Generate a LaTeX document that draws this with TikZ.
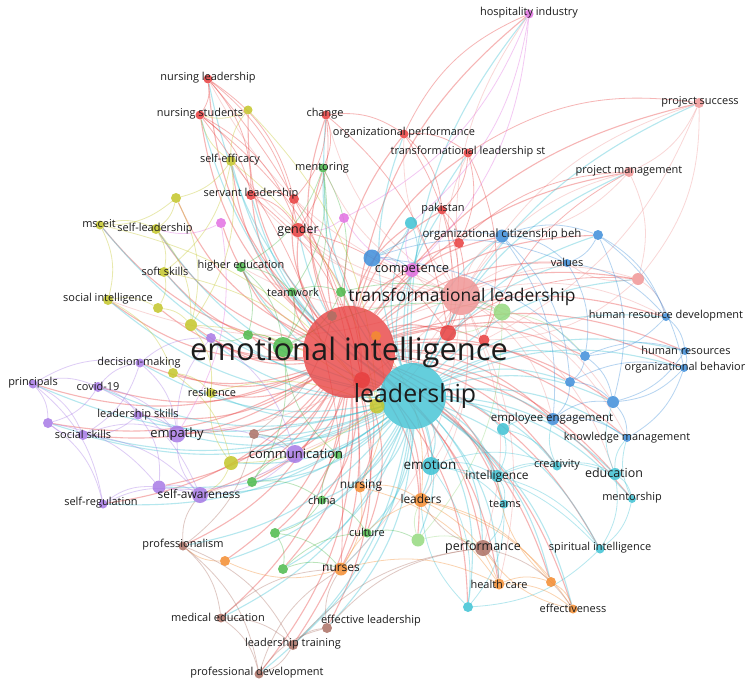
\documentclass[tikz,border=0pt]{standalone}
\usepackage{fontspec}
\setmainfont{Open Sans}
\usetikzlibrary{backgrounds}

% cluster colours
\definecolor{vred}{RGB}{232,62,62}
\definecolor{vsalmon}{RGB}{240,150,150}
\definecolor{vpink}{RGB}{226,112,226}
\definecolor{vyellow}{RGB}{196,198,42}
\definecolor{vgreen}{RGB}{76,186,76}
\definecolor{vlgreen}{RGB}{150,218,128}
\definecolor{vblue}{RGB}{62,142,218}
\definecolor{vcyan}{RGB}{62,194,212}
\definecolor{vpurple}{RGB}{168,122,230}
\definecolor{vorange}{RGB}{244,140,48}
\definecolor{vbrown}{RGB}{172,112,100}
\definecolor{vtext}{RGB}{28,28,28}

\begin{document}
\begin{tikzpicture}[x=1bp, y=-1bp,
    kw/.style={circle, inner sep=0pt, minimum size=#1bp, fill opacity=0.85},
    lbl/.style={text=vtext, inner sep=0pt, font=\fontsize{#1}{#1}\selectfont},
    lbl/.default=11,
    link/.style={line width=0.8bp, draw opacity=0.38, bend left=20}]
    \useasboundingbox (0,0) rectangle (748,682);

    % Nodes
    \node[kw=92, fill=vred, fill opacity=0.78] (emotional-intelligence) at (349,352) {};
    \node[kw=66, fill=vcyan, fill opacity=0.8] (leadership) at (413,396) {};
    \node[kw=38, fill=vsalmon] (transformational-leadership) at (461,296) {};

    \node[kw=9, fill=vred] (nursing-leadership) at (208,79) {};
    \node[kw=9, fill=vred] (nursing-students) at (200,115) {};
    \node[kw=9, fill=vred] (change) at (326,115) {};
    \node[kw=10, fill=vred] (servant-leadership) at (251,195) {};
    \node[kw=10, fill=vred] (red-a) at (294,199) {};
    \node[kw=14, fill=vred] (gender) at (298,230) {};
    \node[kw=9, fill=vred] (organizational-performance) at (404,134) {};
    \node[kw=9, fill=vred] (tl-style) at (468,153) {};
    \node[kw=9, fill=vred] (pakistan) at (442,210) {};
    \node[kw=10, fill=vred] (red-b) at (459,243) {};
    \node[kw=16, fill=vred] (red-c) at (448,333) {};
    \node[kw=11, fill=vred] (red-d) at (484,340) {};
    \node[kw=16, fill=vred] (red-e) at (362,380) {};

    \node[kw=10, fill=vsalmon] (project-success) at (699,103) {};
    \node[kw=10, fill=vsalmon] (project-management) at (629,172) {};
    \node[kw=12, fill=vsalmon] (salmon-a) at (638,279) {};

    \node[kw=9, fill=vpink] (hospitality-industry) at (529,14) {};
    \node[kw=10, fill=vpink] (pink-a) at (221,223) {};
    \node[kw=10, fill=vpink] (pink-b) at (344,218) {};
    \node[kw=14, fill=vpink] (competence) at (412,270) {};

    \node[kw=10, fill=vyellow] (self-efficacy) at (231,161) {};
    \node[kw=9, fill=vyellow] (yellow-a) at (248,110) {};
    \node[kw=10, fill=vyellow] (yellow-b) at (176,198) {};
    \node[kw=9, fill=vyellow] (msceit) at (100,225) {};
    \node[kw=10, fill=vyellow] (self-leadership) at (156,229) {};
    \node[kw=10, fill=vyellow] (soft-skills) at (164,272) {};
    \node[kw=10, fill=vyellow] (social-intelligence) at (108,300) {};
    \node[kw=10, fill=vyellow] (yellow-c) at (158,308) {};
    \node[kw=12, fill=vyellow] (yellow-d) at (191,325) {};
    \node[kw=10, fill=vyellow] (yellow-e) at (173,373) {};
    \node[kw=10, fill=vyellow] (resilience) at (211,393) {};
    \node[kw=15, fill=vyellow] (yellow-f) at (377,406) {};
    \node[kw=14, fill=vyellow] (yellow-g) at (231,463) {};

    \node[kw=9, fill=vgreen] (mentoring) at (323,168) {};
    \node[kw=10, fill=vgreen] (higher-education) at (241,267) {};
    \node[kw=9, fill=vgreen] (teamwork) at (292,292) {};
    \node[kw=10, fill=vgreen] (green-a) at (341,292) {};
    \node[kw=10, fill=vgreen] (green-b) at (248,335) {};
    \node[kw=20, fill=vgreen] (green-c) at (283,347) {};
    \node[kw=10, fill=vgreen] (green-d) at (252,482) {};
    \node[kw=9, fill=vgreen] (china) at (322,500) {};
    \node[kw=10, fill=vgreen] (green-e) at (275,533) {};
    \node[kw=10, fill=vgreen] (green-f) at (283,569) {};
    \node[kw=9, fill=vgreen] (culture) at (367,533) {};
    \node[kw=8, fill=vgreen] (green-g) at (338,455) {};
    \node[kw=17, fill=vlgreen] (lgreen-a) at (502,312) {};
    \node[kw=13, fill=vlgreen] (lgreen-b) at (418,540) {};

    \node[kw=17, fill=vblue] (blue-a) at (372,258) {};
    \node[kw=13, fill=vblue] (organizational-citizenship) at (502,236) {};
    \node[kw=10, fill=vblue] (blue-b) at (598,235) {};
    \node[kw=8, fill=vblue] (values) at (567,263) {};
    \node[kw=8, fill=vblue] (hr-development) at (666,317) {};
    \node[kw=8, fill=vblue] (human-resources) at (685,351) {};
    \node[kw=8, fill=vblue] (organizational-behavior) at (684,368) {};
    \node[kw=10, fill=vblue] (blue-c) at (585,356) {};
    \node[kw=10, fill=vblue] (blue-d) at (570,382) {};
    \node[kw=12, fill=vblue] (blue-e) at (613,402) {};
    \node[kw=12, fill=vblue] (employee-engagement) at (553,419) {};
    \node[kw=8, fill=vblue] (knowledge-management) at (627,438) {};

    \node[kw=12, fill=vcyan] (cyan-a) at (411,223) {};
    \node[kw=12, fill=vcyan] (cyan-c) at (503,429) {};
    \node[kw=18, fill=vcyan] (emotion) at (431,466) {};
    \node[kw=12, fill=vcyan] (intelligence) at (497,476) {};
    \node[kw=9, fill=vcyan] (creativity) at (557,466) {};
    \node[kw=12, fill=vcyan] (education) at (615,474) {};
    \node[kw=9, fill=vcyan] (teams) at (504,504) {};
    \node[kw=8, fill=vcyan] (mentorship) at (632,499) {};
    \node[kw=9, fill=vcyan] (spiritual-intelligence) at (600,549) {};
    \node[kw=10, fill=vcyan] (cyan-d) at (468,607) {};

    \node[kw=10, fill=vpurple] (purple-a) at (211,338) {};
    \node[kw=9, fill=vpurple] (decision-making) at (140,363) {};
    \node[kw=9, fill=vpurple] (principals) at (33,384) {};
    \node[kw=10, fill=vpurple] (covid-19) at (98,387) {};
    \node[kw=9, fill=vpurple] (leadership-skills) at (138,415) {};
    \node[kw=10, fill=vpurple] (purple-b) at (48,423) {};
    \node[kw=10, fill=vpurple] (social-skills) at (83,435) {};
    \node[kw=17, fill=vpurple] (empathy) at (177,434) {};
    \node[kw=18, fill=vpurple] (communication) at (295,454) {};
    \node[kw=13, fill=vpurple] (purple-c) at (159,487) {};
    \node[kw=16, fill=vpurple] (self-awareness) at (200,495) {};
    \node[kw=9, fill=vpurple] (self-regulation) at (103,504) {};

    \node[kw=10, fill=vorange] (orange-a) at (376,336) {};
    \node[kw=11, fill=vorange] (nursing) at (360,487) {};
    \node[kw=14, fill=vorange] (leaders) at (421,500) {};
    \node[kw=13, fill=vorange] (nurses) at (341,569) {};
    \node[kw=10, fill=vorange] (orange-b) at (225,561) {};
    \node[kw=11, fill=vorange] (health-care) at (499,584) {};
    \node[kw=10, fill=vorange] (orange-c) at (551,582) {};
    \node[kw=9, fill=vorange] (effectiveness) at (573,609) {};

    \node[kw=10, fill=vbrown] (brown-a) at (332,316) {};
    \node[kw=10, fill=vbrown] (brown-b) at (254,434) {};
    \node[kw=9, fill=vbrown] (professionalism) at (183,546) {};
    \node[kw=9, fill=vbrown] (medical-education) at (221,618) {};
    \node[kw=10, fill=vbrown] (effective-leadership) at (327,628) {};
    \node[kw=10, fill=vbrown] (leadership-training) at (293,645) {};
    \node[kw=9, fill=vbrown] (professional-development) at (259,674) {};
    \node[kw=16, fill=vbrown] (performance) at (483,548) {};

    % Links
    \begin{scope}[on background layer]
    \fill[white] (0,0) rectangle (748,682);
    \foreach \b in {nursing-leadership, nursing-students, change, servant-leadership, red-a, gender,
        organizational-performance, tl-style, pakistan, red-b, red-c, red-d, project-success,
        project-management, salmon-a, hospitality-industry, pink-a, pink-b, competence, self-efficacy,
        yellow-a, yellow-b, msceit, self-leadership, soft-skills, social-intelligence, yellow-c, yellow-d,
        yellow-e, resilience, yellow-g, mentoring, higher-education, teamwork, green-b, green-d, china,
        green-e, green-f, culture, lgreen-b, organizational-citizenship, blue-b, values, hr-development,
        human-resources, organizational-behavior, blue-c, blue-d, blue-e, employee-engagement,
        knowledge-management, cyan-a, emotion, intelligence, creativity, education, teams, mentorship,
        spiritual-intelligence, cyan-d, purple-a, decision-making, principals, covid-19, leadership-skills,
        purple-b, social-skills, empathy, communication, purple-c, self-awareness, self-regulation,
        nursing, leaders, nurses, orange-b, health-care, orange-c, effectiveness, brown-b,
        professionalism, medical-education, effective-leadership, leadership-training,
        professional-development, performance}
        \draw[link, vred, line width=1.1bp] (emotional-intelligence) to (\b);
    \foreach \b in {nursing-leadership, nursing-students, change, servant-leadership, gender,
        organizational-performance, tl-style, pakistan, project-success, project-management, salmon-a,
        hospitality-industry, competence, cyan-a, self-efficacy, msceit, self-leadership, soft-skills,
        social-intelligence, yellow-d, resilience, yellow-g, mentoring, higher-education, teamwork,
        green-d, china, green-e, green-f, culture, lgreen-b, organizational-citizenship, blue-b, values,
        hr-development, human-resources, organizational-behavior, blue-c, blue-d, blue-e,
        employee-engagement, knowledge-management, cyan-c, emotion, intelligence, creativity, education,
        teams, mentorship, spiritual-intelligence, cyan-d, decision-making, principals, covid-19,
        leadership-skills, purple-b, social-skills, empathy, communication, purple-c, self-awareness,
        self-regulation, nursing, leaders, nurses, orange-b, health-care, orange-c, effectiveness,
        brown-b, professionalism, medical-education, effective-leadership, leadership-training,
        professional-development, performance}
        \draw[link, vcyan, line width=1.1bp] (leadership) to (\b);
    \foreach \b in {project-success, project-management, salmon-a, hospitality-industry,
        organizational-performance, tl-style, change, pakistan, gender, servant-leadership,
        nursing-leadership, organizational-citizenship, values, hr-development, employee-engagement,
        blue-e, competence, self-efficacy, empathy, communication, emotion, leaders, performance,
        nurses, health-care, higher-education, mentoring, knowledge-management, education,
        social-intelligence, self-awareness}
        \draw[link, vsalmon] (transformational-leadership) to (\b);

    \foreach \a/\b in {nursing-leadership/nursing-students, nursing-leadership/servant-leadership,
        nursing-leadership/gender, nursing-leadership/red-a, nursing-students/gender,
        nursing-students/servant-leadership, nursing-students/red-e, change/gender,
        change/organizational-performance, change/red-a, change/red-c, organizational-performance/tl-style,
        organizational-performance/pakistan, organizational-performance/hospitality-industry,
        organizational-performance/red-c, tl-style/pakistan, tl-style/red-b, tl-style/red-d,
        tl-style/project-success, servant-leadership/gender, servant-leadership/red-a,
        servant-leadership/red-e, red-b/red-c, pakistan/red-c, pakistan/red-b, gender/red-e, gender/red-c,
        red-a/red-e, red-b/project-management, red-d/project-management, red-c/salmon-a,
        nursing-students/nurses, nursing-leadership/nursing, change/mentoring}
        \draw[link, vred] (\a) to (\b);
    \foreach \a/\b in {project-success/project-management, project-success/salmon-a,
        project-success/red-d, project-management/salmon-a, project-management/organizational-citizenship,
        salmon-a/hr-development, salmon-a/red-d, salmon-a/values}
        \draw[link, vsalmon] (\a) to (\b);
    \foreach \a/\b in {hospitality-industry/competence, hospitality-industry/pink-b,
        hospitality-industry/cyan-a, competence/pink-b, competence/cyan-a, pink-a/empathy,
        pink-a/self-leadership, pink-b/gender}
        \draw[link, vpink] (\a) to (\b);
    \foreach \a/\b in {self-efficacy/yellow-a, self-efficacy/yellow-b, self-efficacy/nursing-students,
        self-efficacy/soft-skills, self-efficacy/yellow-f, self-efficacy/yellow-d, yellow-a/nursing-students,
        yellow-a/yellow-f, yellow-b/msceit, yellow-b/self-leadership, yellow-b/yellow-d,
        msceit/self-leadership, msceit/social-intelligence, msceit/yellow-f, self-leadership/soft-skills,
        self-leadership/yellow-d, soft-skills/yellow-c, soft-skills/yellow-f, social-intelligence/yellow-c,
        social-intelligence/yellow-e, yellow-c/yellow-d, yellow-d/resilience, yellow-d/yellow-f,
        yellow-e/resilience, yellow-e/yellow-g, resilience/yellow-f, yellow-f/yellow-g,
        yellow-g/resilience, yellow-g/self-awareness}
        \draw[link, vyellow] (\a) to (\b);
    \foreach \a/\b in {mentoring/higher-education, mentoring/teamwork, mentoring/green-c,
        mentoring/green-a, higher-education/teamwork, higher-education/green-c, higher-education/green-b,
        teamwork/green-c, teamwork/green-a, green-a/green-c, green-b/green-c, green-c/green-d,
        green-d/china, green-d/communication, china/green-e, china/culture, china/green-g,
        green-e/green-f, green-f/culture, green-e/nurses, green-f/nurses, culture/lgreen-b,
        green-g/green-c, green-a/lgreen-a, green-c/lgreen-a, green-b/purple-a}
        \draw[link, vgreen] (\a) to (\b);
    \foreach \a/\b in {lgreen-a/lgreen-b, lgreen-a/red-c, lgreen-b/leaders, lgreen-a/blue-c,
        lgreen-b/performance}
        \draw[link, vlgreen] (\a) to (\b);
    \foreach \a/\b in {blue-a/organizational-citizenship, blue-a/blue-c, blue-a/competence, blue-a/values,
        organizational-citizenship/blue-b, organizational-citizenship/values,
        organizational-citizenship/employee-engagement, organizational-citizenship/blue-d, blue-b/values,
        blue-b/blue-e, blue-b/organizational-behavior, blue-b/hr-development, values/hr-development,
        values/blue-c, hr-development/human-resources, hr-development/blue-c,
        human-resources/organizational-behavior, human-resources/blue-e, organizational-behavior/blue-e,
        organizational-behavior/knowledge-management, blue-c/blue-d, blue-c/blue-e,
        blue-d/employee-engagement, blue-d/blue-e, blue-e/knowledge-management,
        employee-engagement/knowledge-management, employee-engagement/blue-e, blue-c/human-resources,
        blue-d/organizational-behavior}
        \draw[link, vblue] (\a) to (\b);
    \foreach \a/\b in {cyan-a/competence, cyan-a/blue-a, cyan-c/employee-engagement, cyan-c/creativity,
        cyan-c/intelligence, emotion/intelligence, emotion/leaders, emotion/cyan-d, emotion/teams,
        intelligence/teams, intelligence/creativity, intelligence/spiritual-intelligence,
        creativity/education, creativity/employee-engagement, education/mentorship,
        education/spiritual-intelligence, education/knowledge-management, education/blue-e,
        mentorship/spiritual-intelligence, spiritual-intelligence/cyan-d, teams/cyan-d, teams/performance,
        cyan-d/leaders, emotion/spiritual-intelligence, intelligence/education, emotion/creativity,
        mentorship/knowledge-management}
        \draw[link, vcyan] (\a) to (\b);
    \foreach \a/\b in {principals/covid-19, principals/purple-b, principals/decision-making,
        principals/self-regulation, principals/social-skills, covid-19/decision-making,
        covid-19/leadership-skills, covid-19/empathy, covid-19/purple-b, decision-making/empathy,
        decision-making/purple-a, leadership-skills/social-skills, leadership-skills/empathy,
        leadership-skills/purple-c, social-skills/purple-b, social-skills/empathy,
        social-skills/self-awareness, purple-b/self-regulation, purple-b/purple-c,
        self-regulation/purple-c, self-regulation/self-awareness, purple-c/self-awareness,
        self-awareness/empathy, empathy/communication, communication/self-awareness, empathy/purple-a,
        purple-a/communication, communication/purple-c, decision-making/social-skills,
        covid-19/self-awareness}
        \draw[link, vpurple] (\a) to (\b);
    \foreach \a/\b in {orange-a/nursing, nursing/nurses, nursing/leaders, nurses/orange-b,
        nurses/health-care, leaders/health-care, leaders/orange-c, leaders/effectiveness,
        health-care/effectiveness, health-care/orange-c, orange-c/effectiveness, orange-b/professionalism,
        nurses/leaders, orange-c/intelligence, effectiveness/performance, nursing/health-care,
        orange-a/leaders}
        \draw[link, vorange] (\a) to (\b);
    \foreach \a/\b in {brown-a/brown-b, brown-b/professionalism, brown-b/communication,
        professionalism/medical-education, professionalism/professional-development,
        professionalism/leadership-training, professionalism/self-awareness,
        medical-education/leadership-training, medical-education/professional-development,
        leadership-training/professional-development, leadership-training/effective-leadership,
        effective-leadership/performance, effective-leadership/nurses, performance/health-care,
        performance/leaders, performance/effectiveness, professional-development/nurses,
        medical-education/nurses, leadership-training/performance,
        professional-development/effective-leadership}
        \draw[link, vbrown] (\a) to (\b);
    \end{scope}

    % Labels
    \node[lbl=31] (emotional-intelligence-txt) at (349,352) {emotional intelligence};
    \node[lbl=25] (leadership-txt) at (415,396) {leadership};
    \node[lbl=17.5] (transformational-leadership-txt) at (462,297) {transformational leadership};
    \node[lbl] (nursing-leadership-txt) at (208,78) {nursing leadership};
    \node[lbl] (nursing-students-txt) at (200,114) {nursing students};
    \node[lbl] (change-txt) at (325,114) {change};
    \node[lbl] (servant-leadership-txt) at (251,194) {servant leadership};
    \node[lbl=12.5] (gender-txt) at (298,230) {gender};
    \node[lbl] (organizational-performance-txt) at (404,133) {organizational performance};
    \node[lbl] (tl-style-txt) at (468,152) {transformational leadership st};
    \node[lbl] (pakistan-txt) at (443,209) {pakistan};
    \node[lbl] (project-success-txt) at (700,102) {project success};
    \node[lbl] (project-management-txt) at (629,171) {project management};
    \node[lbl] (hospitality-industry-txt) at (529,13) {hospitality industry};
    \node[lbl=13] (competence-txt) at (412,270) {competence};
    \node[lbl] (self-efficacy-txt) at (230,160) {self-efficacy};
    \node[lbl] (msceit-txt) at (99,224) {msceit};
    \node[lbl] (self-leadership-txt) at (155,229) {self-leadership};
    \node[lbl] (soft-skills-txt) at (165,271) {soft skills};
    \node[lbl] (social-intelligence-txt) at (108,299) {social intelligence};
    \node[lbl] (resilience-txt) at (212,392) {resilience};
    \node[lbl] (mentoring-txt) at (322,168) {mentoring};
    \node[lbl] (higher-education-txt) at (241,266) {higher education};
    \node[lbl] (teamwork-txt) at (293,292) {teamwork};
    \node[lbl] (china-txt) at (322,500) {china};
    \node[lbl] (culture-txt) at (367,532) {culture};
    \node[lbl=11.5] (organizational-citizenship-txt) at (502,235) {organizational citizenship beh};
    \node[lbl] (values-txt) at (567,262) {values};
    \node[lbl] (hr-development-txt) at (666,316) {human resource development};
    \node[lbl] (human-resources-txt) at (686,350) {human resources};
    \node[lbl] (organizational-behavior-txt) at (685,368) {organizational behavior};
    \node[lbl=11.5] (employee-engagement-txt) at (552,419) {employee engagement};
    \node[lbl] (knowledge-management-txt) at (627,438) {knowledge management};
    \node[lbl=13.5] (emotion-txt) at (430,465) {emotion};
    \node[lbl=12] (intelligence-txt) at (497,476) {intelligence};
    \node[lbl] (creativity-txt) at (557,465) {creativity};
    \node[lbl=12.5] (education-txt) at (614,473) {education};
    \node[lbl] (teams-txt) at (505,504) {teams};
    \node[lbl] (mentorship-txt) at (632,498) {mentorship};
    \node[lbl] (spiritual-intelligence-txt) at (600,548) {spiritual intelligence};
    \node[lbl] (decision-making-txt) at (139,363) {decision-making};
    \node[lbl] (principals-txt) at (33,383) {principals};
    \node[lbl] (covid-19-txt) at (98,386) {covid-19};
    \node[lbl] (leadership-skills-txt) at (138,415) {leadership skills};
    \node[lbl] (social-skills-txt) at (83,434) {social skills};
    \node[lbl=13] (empathy-txt) at (177,434) {empathy};
    \node[lbl=13] (communication-txt) at (296,454) {communication};
    \node[lbl=12] (self-awareness-txt) at (199,494) {self-awareness};
    \node[lbl] (self-regulation-txt) at (101,503) {self-regulation};
    \node[lbl=12] (nursing-txt) at (361,486) {nursing};
    \node[lbl=12] (leaders-txt) at (421,499) {leaders};
    \node[lbl=12] (nurses-txt) at (341,568) {nurses};
    \node[lbl] (health-care-txt) at (499,584) {health care};
    \node[lbl] (effectiveness-txt) at (573,608) {effectiveness};
    \node[lbl] (professionalism-txt) at (183,545) {professionalism};
    \node[lbl] (medical-education-txt) at (218,617) {medical education};
    \node[lbl] (effective-leadership-txt) at (371,621) {effective leadership};
    \node[lbl] (leadership-training-txt) at (293,644) {leadership training};
    \node[lbl] (professional-development-txt) at (257,673) {professional development};
    \node[lbl=12.5] (performance-txt) at (483,547) {performance};
\end{tikzpicture}
\end{document}
